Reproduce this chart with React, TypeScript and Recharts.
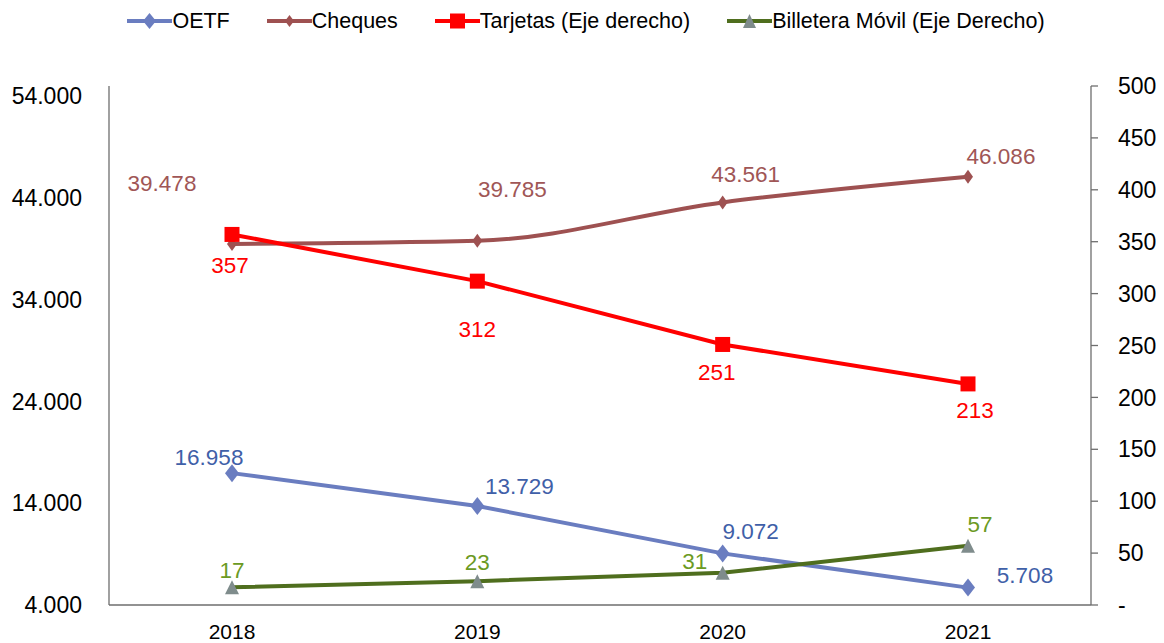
import React from "react";
import { LineChart, Line, XAxis, YAxis, Legend, LabelList } from "recharts";

const years = ["2018", "2019", "2020", "2021"];
const oetf = [16958, 13729, 9072, 5708];
const cheques = [39478, 39785, 43561, 46086];
const tarjetas = [357, 312, 251, 213];
const billetera = [17, 23, 31, 57];
const leftTicks = [4000, 14000, 24000, 34000, 44000, 54000];
const rightTicks = [0, 50, 100, 150, 200, 250, 300, 350, 400, 450, 500];

const data = years.map((y, i) => ({
  year: y,
  oetf: oetf[i],
  cheques: cheques[i],
  tarjetas: tarjetas[i],
  billetera: billetera[i],
}));

// label offsets (relative to point) per series
const oetfOff = [[-23, -16], [42, -19], [28, -22], [57, -12]];
const chequesOff = [[-70, -60], [35, -51], [23, -28], [33, -20]];
const tarjetasOff = [[-2, 31], [0, 48], [-6, 28], [7, 27]];
const billeteraOff = [[0, -17], [0, -19], [-28, -11], [12, -21]];

const FONT = "'Liberation Sans', Arial, sans-serif";
const C = {
  oetf: "#6A7DC0",
  oetfText: "#3F60A8",
  cheques: "#9E5151",
  chequesText: "#A05656",
  tarjetas: "#FF0000",
  billetera: "#4F6E1E",
  billeteraText: "#6B9A23",
  tri: "#7F8C8C",
};

const fmtThousands = (v: number) =>
  String(v).replace(/\B(?=(\d{3})+(?!\d))/g, ".");

const Diamond = (w: number, h: number, color: string) => (p: any) => {
  const { cx, cy, index } = p;
  if (cx == null || cy == null) return <g key={index} />;
  return (
    <path
      key={index}
      d={`M${cx},${cy - h} L${cx + w},${cy} L${cx},${cy + h} L${cx - w},${cy} Z`}
      fill={color}
    />
  );
};

const Square = (s: number, color: string) => (p: any) => {
  const { cx, cy, index } = p;
  if (cx == null || cy == null) return <g key={index} />;
  return <rect key={index} x={cx - s} y={cy - s} width={2 * s} height={2 * s} fill={color} />;
};

const Triangle = (w: number, h: number, color: string) => (p: any) => {
  const { cx, cy, index } = p;
  if (cx == null || cy == null) return <g key={index} />;
  return (
    <path
      key={index}
      d={`M${cx},${cy - h} L${cx + w},${cy + h} L${cx - w},${cy + h} Z`}
      fill={color}
    />
  );
};

const makeLabel = (offs: number[][], color: string, fmt: (v: number) => string) => (p: any) => {
  const { x, y, value, index } = p;
  const o = offs[index] || [0, 0];
  return (
    <text
      x={x + o[0]}
      y={y + o[1]}
      textAnchor="middle"
      dominantBaseline="central"
      fill={color}
      fontSize={22.5}
      fontFamily={FONT}
    >
      {fmt(value)}
    </text>
  );
};

const legendItems = [
  { name: "OETF", color: C.oetf, marker: "diamond", mcolor: C.oetf },
  { name: "Cheques", color: C.cheques, marker: "diamondS", mcolor: C.cheques },
  { name: "Tarjetas (Eje derecho)", color: C.tarjetas, marker: "square", mcolor: C.tarjetas },
  { name: "Billetera Móvil (Eje Derecho)", color: C.billetera, marker: "triangle", mcolor: C.tri },
];

const LegendContent = () => (
  <div
    style={{
      display: "flex",
      justifyContent: "center",
      alignItems: "center",
      fontFamily: FONT,
      fontSize: 21.5,
      color: "#000",
      height: 30,
    }}
  >
    {legendItems.map((it, i) => (
      <div
        key={it.name}
        style={{ display: "flex", alignItems: "center", marginLeft: i === 0 ? 0 : 37 }}
      >
        <svg width={45} height={20} style={{ display: "block" }}>
          <line x1={0} y1={10} x2={45} y2={10} stroke={it.color} strokeWidth={4} />
          {it.marker === "diamond" && <path d="M22.5,2 L29,10 L22.5,18 L16,10 Z" fill={it.mcolor} />}
          {it.marker === "diamondS" && <path d="M22.5,4 L27,10 L22.5,16 L18,10 Z" fill={it.mcolor} />}
          {it.marker === "square" && <rect x={15} y={2.5} width={15} height={15} fill={it.mcolor} />}
          {it.marker === "triangle" && <path d="M22.5,3 L29,17 L16,17 Z" fill={it.mcolor} />}
        </svg>
        <span style={{ whiteSpace: "nowrap" }}>{it.name}</span>
      </div>
    ))}
  </div>
);

export default function App() {
  return (
    <LineChart
      width={1156}
      height={635}
      data={data}
      margin={{ top: 78, right: 0, bottom: 5, left: 0 }}
    >
      <Legend
        layout="horizontal"
        verticalAlign="middle"
        align="center"
        content={<LegendContent />}
        wrapperStyle={{ top: -2, left: 0, width: 1156 }}
      />
      <XAxis
        dataKey="year"
        height={33}
        padding={{ left: 123, right: 123 }}
        tickLine={false}
        axisLine={{ stroke: "#6E6E6E", strokeWidth: 1.3 }}
        tick={{ fill: "#000", fontSize: 21, fontFamily: FONT }}
        tickSize={6}
        tickMargin={13}
      />
      <YAxis
        yAxisId="left"
        orientation="left"
        width={101}
        domain={[4000, 55000]}
        ticks={leftTicks}
        interval={0}
        tickLine={false}
        axisLine={{ stroke: "#6E6E6E", strokeWidth: 1.3 }}
        tick={{ fill: "#000", fontSize: 23, fontFamily: FONT }}
        tickSize={6}
        tickMargin={21}
        tickFormatter={fmtThousands}
      />
      <YAxis
        yAxisId="right"
        orientation="right"
        width={73}
        domain={[0, 500]}
        ticks={rightTicks}
        interval={0}
        tickLine={{ stroke: "#6E6E6E", strokeWidth: 1.3 }}
        axisLine={{ stroke: "#6E6E6E", strokeWidth: 1.3 }}
        tick={{ fill: "#000", fontSize: 23, fontFamily: FONT, textAnchor: "start" }}
        tickSize={7}
        tickMargin={20}
        tickFormatter={(v: number) => (v === 0 ? "-" : String(v))}
      />
      <Line
        yAxisId="left"
        type="linear"
        dataKey="oetf"
        stroke={C.oetf}
        strokeWidth={4}
        dot={Diamond(7, 9, C.oetf)}
        isAnimationActive={false}
      >
        <LabelList dataKey="oetf" content={makeLabel(oetfOff, C.oetfText, fmtThousands)} />
      </Line>
      <Line
        yAxisId="left"
        type="monotone"
        dataKey="cheques"
        stroke={C.cheques}
        strokeWidth={4}
        dot={Diamond(5, 7, C.cheques)}
        isAnimationActive={false}
      >
        <LabelList dataKey="cheques" content={makeLabel(chequesOff, C.chequesText, fmtThousands)} />
      </Line>
      <Line
        yAxisId="right"
        type="linear"
        dataKey="tarjetas"
        stroke={C.tarjetas}
        strokeWidth={4}
        dot={Square(7.5, C.tarjetas)}
        isAnimationActive={false}
      >
        <LabelList dataKey="tarjetas" content={makeLabel(tarjetasOff, C.tarjetas, (v) => String(v))} />
      </Line>
      <Line
        yAxisId="right"
        type="linear"
        dataKey="billetera"
        stroke={C.billetera}
        strokeWidth={4}
        dot={Triangle(7, 7, C.tri)}
        isAnimationActive={false}
      >
        <LabelList dataKey="billetera" content={makeLabel(billeteraOff, C.billeteraText, (v) => String(v))} />
      </Line>
    </LineChart>
  );
}
